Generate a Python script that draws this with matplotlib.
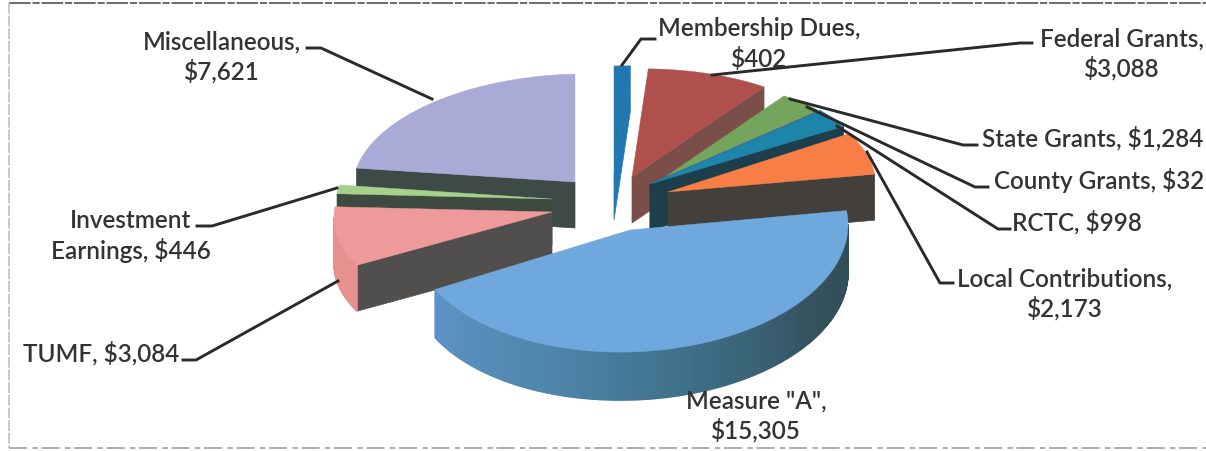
import numpy as np
import matplotlib
matplotlib.use("Agg")
import matplotlib.pyplot as plt
from matplotlib.colors import LinearSegmentedColormap
from matplotlib.patches import Polygon

# Data, clockwise from 12 o'clock
names = ["Membership Dues", "Federal Grants", "State Grants", "County Grants", "RCTC",
         "Local Contributions", 'Measure "A"', "TUMF", "Investment\nEarnings", "Miscellaneous"]
values = [402, 3088, 1284, 32, 998, 2173, 15305, 3084, 446, 7621]
label_seps = ["\n", "\n", " ", " ", " ", "\n", "\n", " ", " ", "\n"]

# Look of each slice
top_colors = ["#1f78b0", "#b0504d", "#74a55c", "#6b5b95", "#1e85aa",
              "#f77f45", "#6fa8dc", "#ee9a9a", "#a8d08d", "#a9aad6"]
cut_colors = ["#1f78b0", "#7a4f49", "#4f6b4a", "#3a3550", "#1d3f4c",
              "#433f3a", "#2f4a52", "#514f4d", "#3e4a40", "#3d4a45"]

# Exploded layout in pixels: apex of each slice and its ellipse radii
apex_x = [614, 632, 652, 650, 650, 668, 630, 552, 552, 575]
apex_y = [175, 178, 187, 185, 185, 193, 231, 213, 200, 183]
radius_x = [222, 222, 222, 222, 222, 208, 218, 218, 216, 222]
radius_y = [108, 108, 108, 108, 108, 110, 122, 108, 108, 108]
depths = [46, 46, 46, 46, 46, 46, 48, 46, 46, 46]
SHEAR = 0.025

draw_order = [9, 8, 7, 0, 1, 2, 3, 4, 5, 6]

label_pos = [(759, 44), (1122, 54), (1093, 138), (1099, 181), (1077, 222),
             (1065, 294), (756, 416), (101, 353), (131, 236), (222, 57)]

leaders = [[(655, 40), (641, 40), (622, 66)],
           [(1032, 44), (1020, 44), (712, 76)],
           [(977, 146), (963, 146), (790, 100)],
           [(988, 188), (975, 188), (807, 108)],
           [(1010, 230), (998, 230), (837, 127)],
           [(953, 284), (940, 284), (867, 153)],
           [],
           [(183, 361), (196, 361), (338, 282)],
           [(197, 227), (212, 227), (337, 189)],
           [(307, 49), (321, 49), (432, 100)]]

measure_rim = LinearSegmentedColormap.from_list(
    "measure_rim", ["#2f4a52", "#35525e", "#3e6f88", "#4f86ad", "#5e93c4"])
tumf_rim = "#e6918f"
TEXT_COLOR = "#333333"
LINE_COLOR = "#2a2a2a"

plt.rcParams["font.family"] = ["Lato", "DejaVu Sans"]

fig = plt.figure(figsize=(12.06, 4.52), dpi=100)
ax = fig.add_axes([0, 0, 1, 1])
ax.set_xlim(0, 1206)
ax.set_ylim(452, 0)
ax.axis("off")

ends = 360 * np.cumsum(values) / np.sum(values)
starts = np.concatenate([[0], ends[:-1]])


def rim_point(i, angle):
    """ Point on the top edge of slice i at a clockwise angle from 12 o'clock """
    rad = np.radians(angle)
    x = apex_x[i] + radius_x[i] * np.sin(rad)
    y = apex_y[i] - radius_y[i] * np.cos(rad) - SHEAR * radius_x[i] * np.sin(rad)
    return x, y


def draw_cut(i, angle):
    x, y = rim_point(i, angle)
    corners = [(apex_x[i], apex_y[i]), (x, y), (x, y + depths[i]), (apex_x[i], apex_y[i] + depths[i])]
    ax.add_patch(Polygon(corners, closed=True, fc=cut_colors[i], ec=cut_colors[i], lw=0.5))


def rim_color(i, angle):
    if names[i] == 'Measure "A"':
        return measure_rim((angle - starts[i]) / (ends[i] - starts[i]))
    if names[i] == "TUMF":
        return tumf_rim
    return cut_colors[i]


for i in draw_order:
    # cut faces that turn towards the viewer
    if ends[i] < 180:
        draw_cut(i, ends[i])
    if starts[i] > 180:
        draw_cut(i, starts[i])

    # outer wall, only the front half of the pie shows it
    wall_from = max(starts[i], 90)
    wall_to = min(ends[i], 270)
    if wall_to > wall_from:
        steps = np.arange(wall_from, wall_to, 0.5)
        steps = np.append(steps, wall_to)
        for a, b in zip(steps[:-1], steps[1:]):
            x1, y1 = rim_point(i, a)
            x2, y2 = rim_point(i, b)
            col = rim_color(i, (a + b) / 2)
            ax.add_patch(Polygon([(x1, y1), (x2, y2), (x2, y2 + depths[i]), (x1, y1 + depths[i])],
                                 closed=True, fc=col, ec=col, lw=1.0))

    # top surface
    arc = np.linspace(starts[i], ends[i], 60)
    pts = [(apex_x[i], apex_y[i])] + [rim_point(i, a) for a in arc]
    ax.add_patch(Polygon(pts, closed=True, fc=top_colors[i], ec=top_colors[i], lw=0.3))

# Leader lines and labels
for i in range(len(names)):
    if leaders[i]:
        xs = [p[0] for p in leaders[i]]
        ys = [p[1] for p in leaders[i]]
        ax.plot(xs, ys, color=LINE_COLOR, lw=2.1, solid_joinstyle="round", zorder=5)
    ax.text(label_pos[i][0], label_pos[i][1], f"{names[i]},{label_seps[i]}${values[i]:,}",
            ha="center", va="center", ma="center", fontsize=17.5, fontweight="semibold",
            color=TEXT_COLOR, linespacing=1.3, zorder=6)

# Scanned frame around the chart
ax.plot([9, 1206], [4, 4], color="#5f5f5f", lw=1.3, ls=(0, (12, 1, 4, 1)))
ax.plot([9, 9], [4, 449], color="#c4c4c4", lw=1.3, ls=(0, (6, 1)))
ax.plot([9, 1206], [449, 449], color="#a8a8a8", lw=1.3, ls=(0, (10, 3, 3, 2)))

fig.savefig("out.png", dpi=100, facecolor="white")
